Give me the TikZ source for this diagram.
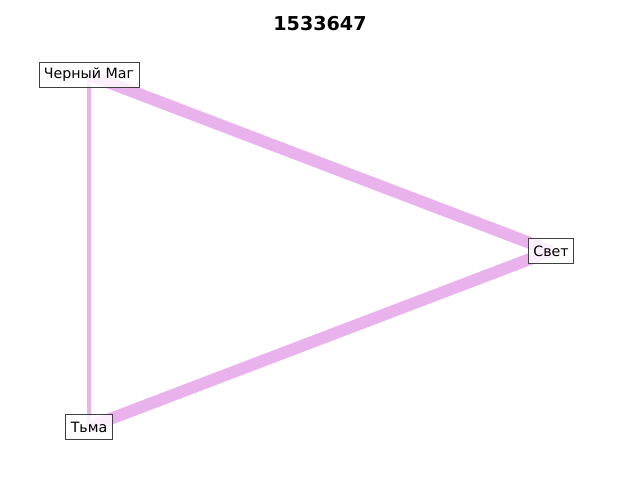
\documentclass[tikz,border=0pt]{standalone}
\usepackage{fontspec}
\setmainfont{DejaVu Sans}
\usepackage{xcolor}
\usetikzlibrary{positioning,backgrounds}
\definecolor{edgeviolet}{RGB}{233,178,237}
\definecolor{boxgray}{RGB}{64,64,64}

\begin{document}
\begin{tikzpicture}[x=0.025cm, y=-0.025cm,
  vertex/.style={draw=boxgray, line width=0.7pt, fill=white, fill opacity=0.8,
    text opacity=1, inner xsep=3.5pt, inner ysep=0pt, minimum height=18pt,
    font=\fontsize{10.1}{12}\selectfont},
  link/.style={edgeviolet, line cap=butt}]
% canvas, pixel coordinates
\useasboundingbox (0,0) rectangle (640,480);

% title
\node[font=\fontsize{13.6}{16}\selectfont\bfseries] (title) at (320,24) {1533647};

% vertices
\node[vertex] (mag)  at (89,75)  {Черный Маг};
\node[vertex] (svet) at (551,251) {Свет};
\node[vertex] (tma)  at (89,427) {Тьма};

% links, behind the boxes
\begin{scope}[on background layer]
  \draw[link, line width=8.5pt] (mag.center) -- (svet.center);
  \draw[link, line width=8.5pt] (svet.center) -- (tma.center);
  \draw[link, line width=2.8pt] (mag.center) -- (tma.center);
\end{scope}

\end{tikzpicture}
\end{document}
